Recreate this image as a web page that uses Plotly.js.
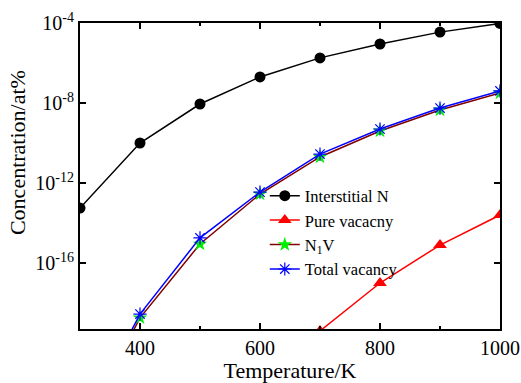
<!DOCTYPE html>
<html>
<head>
<meta charset="utf-8">
<script src="https://cdn.plot.ly/plotly-3.0.1.min.js"></script>
<style>html,body{margin:0;padding:0;background:#fff;}#chart{width:521px;height:383px;}</style>
</head>
<body>
<div id="chart"></div>
<script>
// Data
const temperature = [300, 400, 500, 600, 700, 800, 900, 1000];
const interstitialN = [5.6e-14, 1.0e-10, 8.9e-9, 2.0e-7, 1.8e-6, 8.9e-6, 3.5e-5, 9.5e-5];
const pureVacancyT = [600, 700, 800, 900, 1000];
const pureVacancy = [3.0e-23, 4.0e-20, 1.0e-17, 7.9e-16, 2.5e-14];
const n1v = [3.2e-25, 1.8e-19, 8.9e-16, 2.8e-13, 2.0e-11, 4.0e-10, 4.5e-9, 3.2e-8];
const totalVacancy = [5.0e-25, 2.8e-19, 1.8e-15, 3.5e-13, 2.8e-11, 5.0e-10, 5.6e-9, 4.0e-8];
const seriesNames = ["Interstitial N", "Pure vacacny", "N<sub>1</sub>V", "Total vacancy"];
const xTickVals = [400, 600, 800, 1000];
const xTickText = ["400", "600", "800", "1000"];
const xMinorVals = [500, 700, 900];
const yLabelled = [-4, -8, -12, -16];
const yDecades = [-4,-5,-6,-7,-8,-9,-10,-11,-12,-13,-14,-15,-16,-17,-18,-19];

const font = "Liberation Serif, Times New Roman, serif";

const traces = [
  {x: temperature, y: interstitialN, name: seriesNames[0], mode: "lines+markers",
   line: {color: "#000000", width: 1.5}, marker: {symbol: "circle", size: 11, color: "#000000"}},
  {x: pureVacancyT, y: pureVacancy, name: seriesNames[1], mode: "lines+markers",
   line: {color: "#ff0000", width: 1.5}, marker: {symbol: "triangle-up", size: 12, color: "#ff0000"}},
  {x: temperature, y: n1v, name: seriesNames[2], mode: "lines+markers",
   line: {color: "#800000", width: 1.5}, marker: {symbol: "star", size: 11, color: "#00ee00"}},
  {x: temperature, y: totalVacancy, name: seriesNames[3], mode: "lines+markers",
   line: {color: "#0000ff", width: 1.5}, marker: {symbol: "asterisk-open", size: 11, color: "#0000ff", line: {color: "#0000ff", width: 1.2}}}
];

const layout = {
  width: 521, height: 383,
  margin: {l: 80, r: 21, t: 23, b: 54},
  paper_bgcolor: "#ffffff", plot_bgcolor: "#ffffff",
  font: {family: font, color: "#000000", size: 20},
  showlegend: true,
  legend: {x: 0.440, y: 0.492, xanchor: "left", yanchor: "top", bgcolor: "rgba(0,0,0,0)",
           font: {family: font, size: 16.5}, itemwidth: 30, tracegroupgap: 0},
  xaxis: {
    range: [300, 1000], showgrid: false, zeroline: false,
    showline: true, linecolor: "#000000", linewidth: 2, mirror: "allticks",
    ticks: "inside", ticklen: 6, tickwidth: 1.5, tickcolor: "#000000",
    tickvals: xTickVals, ticktext: xTickText,
    minor: {ticks: "inside", ticklen: 3, tickwidth: 1.5, tickcolor: "#000000", tickvals: xMinorVals},
    tickfont: {family: font, size: 20},
    title: {text: "Temperature/K", font: {family: font, size: 22}, standoff: 0}
  },
  yaxis: {
    type: "log", range: [-19.3, -4], showgrid: false, zeroline: false,
    showline: true, linecolor: "#000000", linewidth: 2, mirror: "allticks",
    ticks: "inside", ticklen: 6, tickwidth: 1.5, tickcolor: "#000000",
    tickvals: yLabelled.map(e => Math.pow(10, e)),
    ticktext: yLabelled.map(e => "10<sup>" + e + "</sup>"),
    tickfont: {family: font, size: 20}
  },
  yaxis2: {
    type: "log", range: [-19.3, -4], overlaying: "y", side: "left", showgrid: false, zeroline: false,
    showline: false, mirror: "allticks", showticklabels: false,
    ticks: "inside", ticklen: 6, tickwidth: 1.5, tickcolor: "#000000",
    tickvals: yDecades.map(e => Math.pow(10, e)),
    minor: {ticks: "inside", ticklen: 3, tickwidth: 1, tickcolor: "#000000", dtick: "D2"}
  },
  annotations: [{
    text: "Concentration/at%", xref: "paper", yref: "paper", x: -0.150, y: 0.575,
    xanchor: "center", yanchor: "middle", textangle: -90, showarrow: false,
    font: {family: font, size: 22}
  }]
};

Plotly.newPlot("chart", traces, layout, {displayModeBar: false, staticPlot: true});
</script>
</body>
</html>
